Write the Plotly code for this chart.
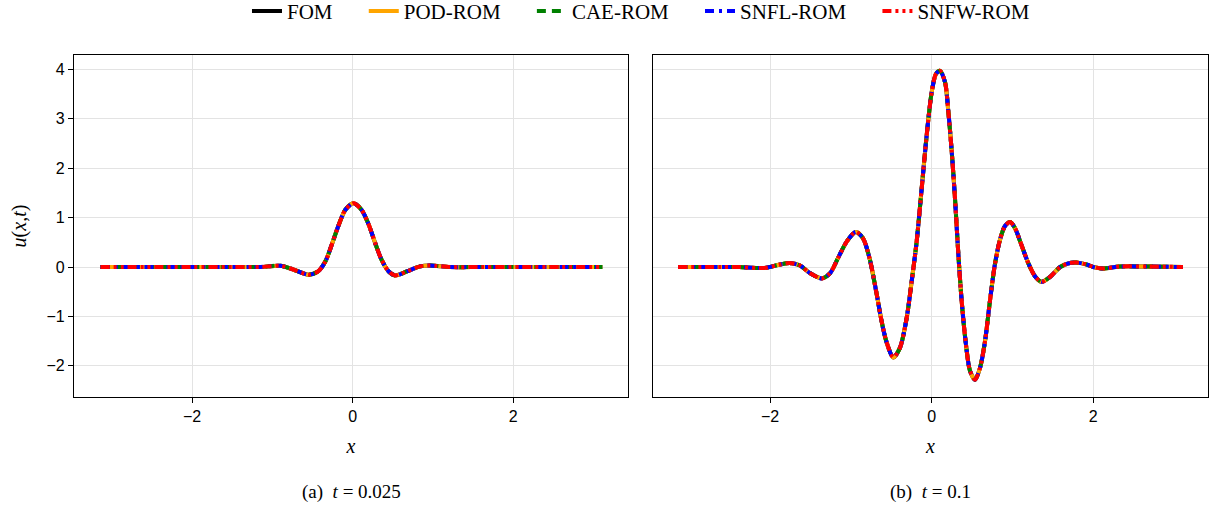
import plotly.graph_objects as go

# ---- data ----
# panel (a): t = 0.025
x_a = [-3.14, -2.6, -2.0, -1.5, -1.15, -0.90, -0.74, -0.55, -0.43, -0.34, -0.26, -0.18,
       -0.09, 0.01, 0.11, 0.20, 0.28, 0.36, 0.45, 0.53, 0.675, 0.84, 0.965, 1.215,
       1.6, 2.1, 2.6, 3.11]
u_a = [0.0, 0.0, 0.0, 0.0, 0.0, 0.025, -0.05, -0.155, -0.09, 0.11, 0.45, 0.82,
       1.16, 1.29, 1.16, 0.86, 0.49, 0.15, -0.09, -0.17, -0.09, 0.013, 0.03, 0.0,
       0.0, 0.0, 0.0, 0.0]

# panel (b): t = 0.1
x_b = [-3.14, -2.62, -2.38, -2.17, -2.05, -1.88, -1.76, -1.63, -1.51, -1.36, -1.26,
       -1.16, -1.05, -0.94, -0.85, -0.77, -0.68, -0.62, -0.557, -0.475, -0.392, -0.31,
       -0.248, -0.186, -0.124, -0.062, 0.0, 0.053, 0.103, 0.165, 0.206, 0.248, 0.288,
       0.33, 0.371, 0.424, 0.474, 0.536, 0.598, 0.66, 0.72, 0.78, 0.845, 0.907, 0.97,
       1.03, 1.11, 1.195, 1.28, 1.36, 1.465, 1.59, 1.71, 1.79, 1.92, 2.0, 2.12, 2.33,
       2.66, 3.11]
u_b = [0.0, 0.0, 0.0, -0.02, -0.015, 0.05, 0.08, 0.03, -0.12, -0.23, -0.13,
       0.18, 0.52, 0.71, 0.58, 0.18, -0.56, -1.10, -1.53, -1.83, -1.63, -1.03,
       -0.29, 0.52, 1.59, 2.67, 3.54, 3.91, 3.97, 3.74, 3.14, 2.33, 1.39,
       0.25, -0.69, -1.57, -2.10, -2.28, -2.04, -1.50, -0.70, 0.03, 0.55, 0.83, 0.91,
       0.79, 0.45, 0.08, -0.19, -0.30, -0.20, 0.0, 0.08, 0.09, 0.05, 0.0, -0.03, 0.01,
       0.01, 0.0]

models = ["FOM", "POD-ROM", "CAE-ROM", "SNFL-ROM", "SNFW-ROM"]
colors = ["black", "orange", "green", "blue", "red"]
dashes = ["solid", "solid", "9px,6px", "9px,5px,3px,5px", "9px,4px,3px,4px,3px,4px"]

x_ticks = [-2, 0, 2]
y_ticks = [-2, -1, 0, 1, 2, 3, 4]
captions = ["(a)  <i>t</i> = 0.025", "(b)  <i>t</i> = 0.1"]

PAD = "\u00a0" * 5  # extra spacing between legend entries

fig = go.Figure()
panels = [(x_a, u_a, "x", "y"), (x_b, u_b, "x2", "y2")]
for pi, (xs, us, xa, ya) in enumerate(panels):
    for k, (m, c, d) in enumerate(zip(models, colors, dashes)):
        label = m + (PAD if k < len(models) - 1 else "")
        fig.add_trace(go.Scatter(
            x=xs, y=us, mode="lines", name=label,
            line=dict(color=c, width=4, dash=d, shape="spline", smoothing=0.8),
            xaxis=xa, yaxis=ya, showlegend=(pi == 0)))

W, H = 1214, 510
xd1 = [74 / W, 628 / W]
xd2 = [653 / W, 1208 / W]
yd = [(H - 397) / H, (H - 55) / H]

serif = "Liberation Serif, DejaVu Serif, serif"
axis_common = dict(showline=True, linecolor="black", linewidth=1.3, mirror=True,
                   showgrid=True, gridcolor="#e3e3e3", gridwidth=1, zeroline=False,
                   automargin=False,
                   tickfont=dict(family="Liberation Sans, Arial", size=16, color="black"))
title_font = dict(family=serif, size=20, color="black")

fig.update_layout(
    width=W, height=H,
    margin=dict(l=0, r=0, t=0, b=0, autoexpand=False),
    paper_bgcolor="white", plot_bgcolor="white",
    showlegend=True,
    legend=dict(orientation="h", x=0.528, xanchor="center", y=1.018, yanchor="top",
                font=dict(family=serif, size=21, color="black"),
                itemwidth=30, traceorder="normal", bgcolor="rgba(0,0,0,0)"),
    xaxis=dict(domain=xd1, range=[-3.47, 3.43], tickvals=x_ticks, ticks="outside",
               ticklen=5, tickcolor="black", anchor="y",
               title=dict(text="<i>x</i>", font=title_font, standoff=14),
               **axis_common),
    yaxis=dict(domain=yd, range=[-2.63, 4.29], tickvals=y_ticks, ticks="outside",
               ticklen=5, tickcolor="black", anchor="x",
               title=dict(text="<i>u</i>(<i>x</i>,<i>t</i>)", font=title_font, standoff=14),
               **axis_common),
    xaxis2=dict(domain=xd2, range=[-3.45, 3.42], tickvals=x_ticks, ticks="outside",
                ticklen=5, tickcolor="black", anchor="y2",
                title=dict(text="<i>x</i>", font=title_font, standoff=14),
                **axis_common),
    yaxis2=dict(domain=yd, range=[-2.63, 4.29], tickvals=y_ticks, ticks="",
                showticklabels=False, anchor="x2", **axis_common),
)

for cap, xd in zip(captions, [xd1, xd2]):
    fig.add_annotation(text=cap, xref="paper", yref="paper",
                       x=(xd[0] + xd[1]) / 2, y=(H - 492) / H, xanchor="center", yanchor="middle",
                       showarrow=False,
                       font=dict(family=serif, size=19, color="black"))

fig.write_html("out.html", config={"displayModeBar": False},
               post_script="document.body.style.margin='0';document.body.style.overflow='hidden';")
